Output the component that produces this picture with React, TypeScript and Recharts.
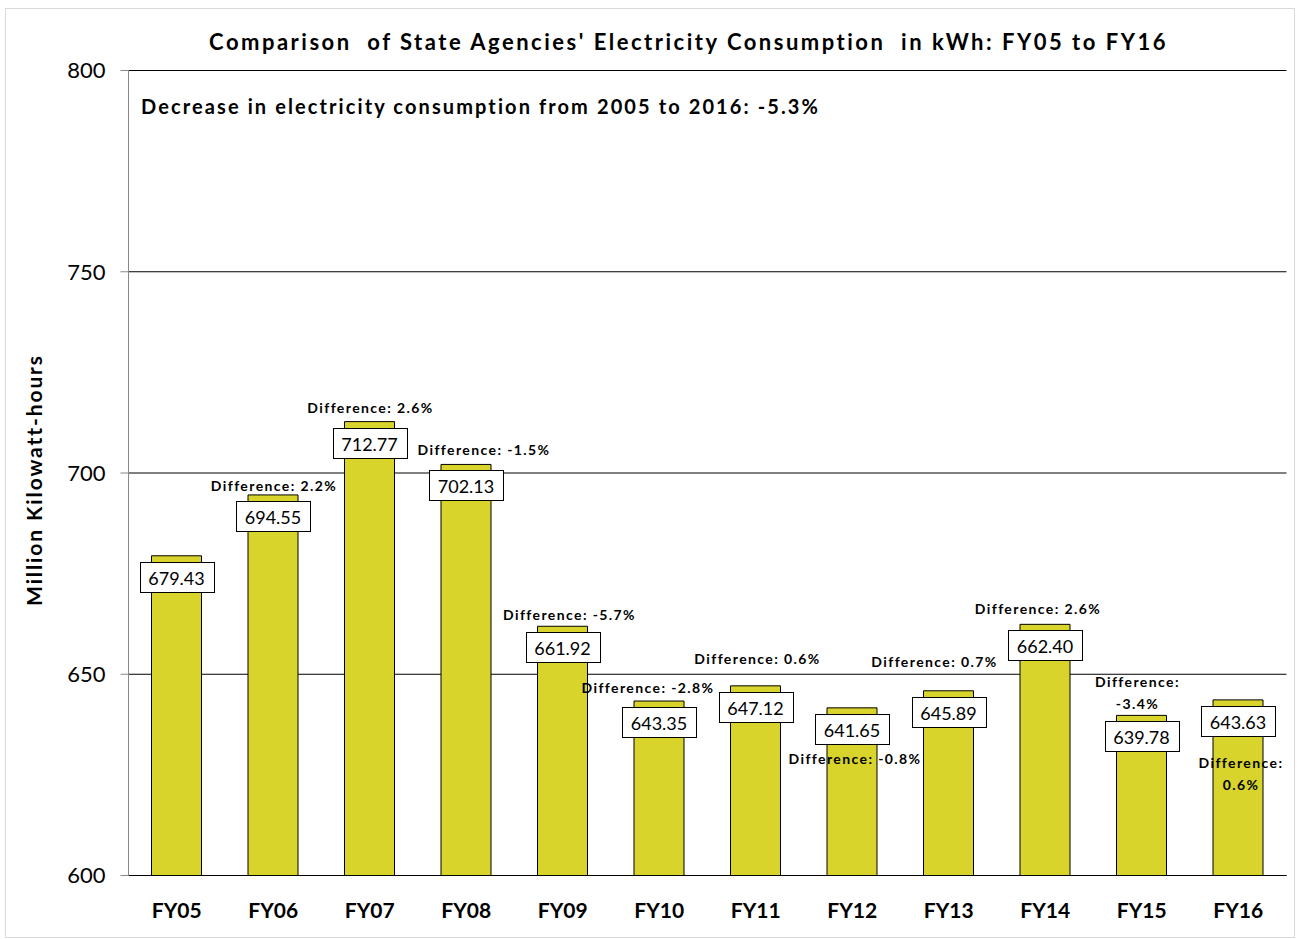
import { Bar, BarChart, CartesianGrid, LabelList, XAxis, YAxis } from 'recharts';

const categories = ['FY05', 'FY06', 'FY07', 'FY08', 'FY09', 'FY10', 'FY11', 'FY12', 'FY13', 'FY14', 'FY15', 'FY16'];
const consumption = [679.43, 694.55, 712.77, 702.13, 661.92, 643.35, 647.12, 641.65, 645.89, 662.4, 639.78, 643.63];
const differences = ['', '2.2%', '2.6%', '-1.5%', '-5.7%', '-2.8%', '0.6%', '-0.8%', '0.7%', '2.6%', '-3.4%', '0.6%'];
const yTicks = [600, 650, 700, 750, 800];
const edgeTicks = [0, 1, 2, 3, 4, 5, 6, 7, 8, 9, 10, 11, 12];

const data = categories.map((fy, i) => ({ fy, kwh: consumption[i], diff: differences[i] }));

const FONT = 'Lato, "Liberation Sans", sans-serif';
const BAR_FILL = '#d9d42b';

// where each "Difference" note sits relative to the bar top (Excel let them wander)
const diffSpot: Record<number, { dx: number; dy: number; split?: boolean }> = {
  1: { dx: 1, dy: -9 },
  2: { dx: 1, dy: -14 },
  3: { dx: 18, dy: -15 },
  4: { dx: 7, dy: -12 },
  5: { dx: -11, dy: -14 },
  6: { dx: 2, dy: -27 },
  7: { dx: 3, dy: 51 },
  8: { dx: -14, dy: -29 },
  9: { dx: -7, dy: -16 },
  10: { dx: -4, dy: -34, split: true },
  11: { dx: 3, dy: 62, split: true },
};

const diffStyle = { fontSize: 14, fontWeight: 'bold' as const, fontFamily: FONT, letterSpacing: 1.4 };

function BarNote(props: any) {
  const { x, y, width, index, value } = props;
  const cx = x + width / 2;
  const top = y;
  const diff = differences[index];
  const spot = diffSpot[index];
  return (
    <g>
      <rect x={Math.round(cx - 37) + 0.5} y={Math.round(top + 6) + 0.5} width={74} height={30} fill="#fff" stroke="#000" strokeWidth={1} />
      <text x={cx} y={top + 22} textAnchor="middle" dominantBaseline="central" fontSize={18} fontFamily={FONT} fill="#000">
        {Number(value).toFixed(2)}
      </text>
      {diff && spot && !spot.split && (
        <text x={cx + spot.dx} y={top + spot.dy} textAnchor="middle" dominantBaseline="central" fill="#000" style={diffStyle}>
          {`Difference: ${diff}`}
        </text>
      )}
      {diff && spot && spot.split && (
        <text x={cx + spot.dx} y={top + spot.dy} textAnchor="middle" dominantBaseline="central" fill="#000" style={diffStyle}>
          <tspan x={cx + spot.dx}>Difference:</tspan>
          <tspan x={cx + spot.dx} dy={22}>{diff}</tspan>
        </text>
      )}
    </g>
  );
}

export default function App() {
  return (
    <div style={{ position: 'absolute', left: 0, top: 0, width: 1297, height: 939, background: '#fff', fontFamily: FONT }}>
      <div style={{ position: 'absolute', left: 5, top: 8, width: 1288, height: 928, border: '1px solid #d9d9d9' }} />
      <BarChart width={1297} height={939} data={data} margin={{ top: 70.5, right: 10.5, bottom: 13.5, left: 0.5 }}>
        <CartesianGrid horizontal vertical={false} stroke="#000" strokeWidth={1} />
        <XAxis
          xAxisId="edges"
          type="number"
          domain={[0, 12]}
          ticks={edgeTicks}
          height={0}
          tick={false}
          axisLine={false}
          tickSize={8}
          tickLine={{ stroke: '#000' }}
        />
        <XAxis
          dataKey="fy"
          height={50}
          axisLine={{ stroke: '#000' }}
          tickLine={false}
          tickMargin={22}
          tick={{ fontSize: 21, fontWeight: 'bold', fill: '#000', fontFamily: FONT }}
        />
        <YAxis
          domain={[600, 800]}
          ticks={yTicks}
          width={128}
          axisLine={{ stroke: '#888' }}
          tickLine={{ stroke: '#888' }}
          tickSize={8}
          tickMargin={15}
          tick={{ fontSize: 22, fill: '#000', fontFamily: FONT }}
        />
        <YAxis yAxisId="right" orientation="right" width={0} domain={[600, 800]} tick={false} tickLine={false} axisLine={{ stroke: '#000' }} />
        <Bar dataKey="kwh" fill={BAR_FILL} stroke="#000" strokeWidth={1} barSize={50} isAnimationActive={false}>
          <LabelList dataKey="kwh" content={(p: any) => <BarNote {...p} />} />
        </Bar>
      </BarChart>
      <div style={{ position: 'absolute', left: 0, width: 1377, top: 28, textAlign: 'center', fontSize: 22, fontWeight: 'bold', whiteSpace: 'pre', letterSpacing: 2.5 }}>
        {"Comparison  of State Agencies' Electricity Consumption  in kWh: FY05 to FY16"}
      </div>
      <div style={{ position: 'absolute', left: 141, top: 94, fontSize: 20, fontWeight: 'bold', whiteSpace: 'pre', letterSpacing: 2.1 }}>
        Decrease in electricity consumption from 2005 to 2016: -5.3%
      </div>
      <div
        style={{
          position: 'absolute',
          left: 33,
          top: 480,
          transform: 'translate(-50%, -50%) rotate(-90deg)',
          fontSize: 21,
          fontWeight: 'bold',
          whiteSpace: 'pre',
          letterSpacing: 1.9,
        }}
      >
        Million Kilowatt-hours
      </div>
    </div>
  );
}
